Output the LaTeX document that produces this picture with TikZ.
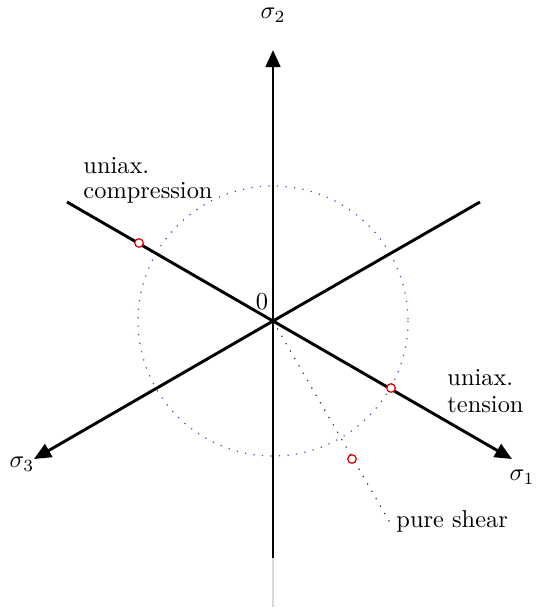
\documentclass[tikz,border=0pt]{standalone}
\usetikzlibrary{arrows.meta}
\begin{document}
\begin{tikzpicture}[x=0.41pt,y=-0.41pt,
  axis/.style={line width=1.2pt},
  axisarrow/.style={line width=1.2pt,-{Triangle[length=7pt,width=6pt]}},
  yield/.style={draw=blue!70!black!70,line width=0.5pt,dash pattern=on 0.5pt off 3pt},
  guide/.style={draw=black!80,line width=0.5pt,dash pattern=on 0.5pt off 3pt},
  pt/.style={circle,draw=red!85!black,fill=white,line width=0.5pt,inner sep=0pt,minimum size=3.5pt},
  lbl/.style={inner sep=0pt,font=\normalsize}]
\useasboundingbox (0,0) rectangle (536,609);
\coordinate (O) at (273,321);
\coordinate (s1) at (512,459);
\coordinate (s3) at (34,459);
\coordinate (s2) at (273,50);
\coordinate (ul) at (67,202);
\coordinate (ur) at (480,202);
\coordinate (dn) at (273,558);
\coordinate (dg) at (273,607);
\coordinate (ps) at (392,526);
% yield circle
\draw[yield] (O) circle[radius=135];
% shear guide
\draw[guide] (O) -- (ps);
% axes
\draw[axisarrow] (O) -- (s1);
\draw[axisarrow] (O) -- (s3);
\draw[axisarrow] (O) -- (s2);
\draw[axis] (O) -- (ul);
\draw[axis] (O) -- (ur);
\draw[axis] (O) -- (dn);
\draw[draw=black!15,line width=0.6pt] (dn) -- (dg);
% points
\node[pt] (pc) at (139,243) {};
\node[pt] (pte) at (391,388) {};
\node[pt] (psh) at (352,459) {};
% labels
\node[lbl] (l2) at (273,15) {$\sigma_2$};
\node[lbl] (l1) at (522,477) {$\sigma_1$};
\node[lbl] (l3) at (22,464) {$\sigma_3$};
\node[lbl] (l0) at (262,302) {$0$};
\node[lbl,anchor=base west,align=left] (lc) at (83,198) {uniax.\\[-2pt]compression};
\node[lbl,anchor=base west,align=left] (lt) at (447,412) {uniax.\\[-1pt]tension};
\node[lbl,anchor=base west] (lp) at (396,527) {pure shear};
\end{tikzpicture}
\end{document}
